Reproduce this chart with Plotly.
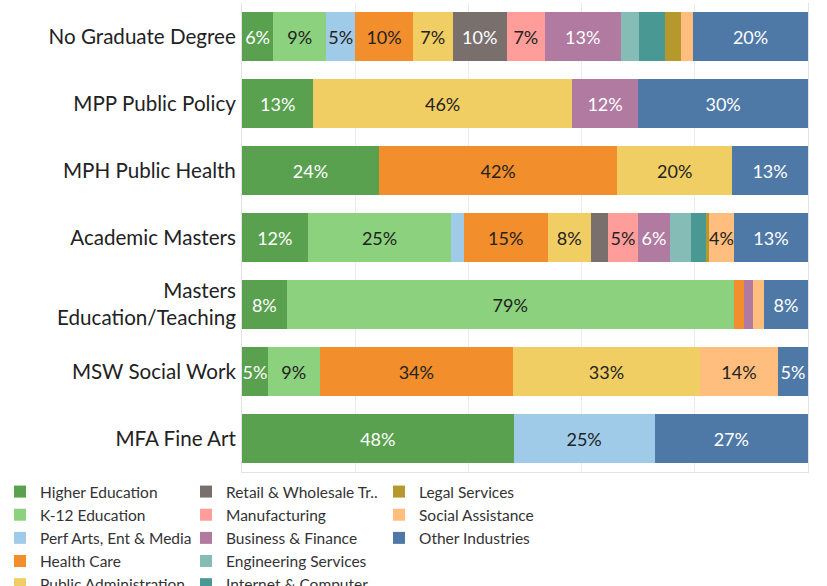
import plotly.graph_objects as go

categories = [
    "No Graduate Degree",
    "MPP Public Policy",
    "MPH Public Health",
    "Academic Masters",
    "Masters<br>Education/Teaching",
    "MSW Social Work",
    "MFA Fine Art",
]

industries = [
    "Higher Education",
    "K-12 Education",
    "Perf Arts, Ent & Media",
    "Health Care",
    "Public Administration",
    "Retail & Wholesale Tr..",
    "Manufacturing",
    "Business & Finance",
    "Engineering Services",
    "Internet & Computer ..",
    "Legal Services",
    "Social Assistance",
    "Other Industries",
]

# percent share per category (same order as categories)
higher_education = [5.5, 12.6, 24.2, 11.6, 7.9, 4.6, 48.0]
k12_education = [9.4, 0, 0, 25.4, 79.0, 9.1, 0]
perf_arts = [5.1, 0, 0, 2.2, 0, 0, 24.9]
health_care = [10.2, 0, 42.1, 14.8, 1.8, 34.2, 0]
public_admin = [7.0, 45.7, 20.3, 7.6, 0, 33.0, 0]
retail = [9.6, 0, 0, 3.0, 0, 0, 0]
manufacturing = [6.7, 0, 0, 5.4, 0, 0, 0]
business = [13.4, 11.7, 0, 5.6, 1.5, 0, 0]
engineering = [3.3, 0, 0, 3.7, 0, 0, 0]
internet = [4.6, 0, 0, 2.6, 0, 0, 0]
legal = [2.8, 0, 0, 0.6, 0, 0, 0]
social = [2.1, 0, 0, 4.4, 2.0, 13.8, 0]
other = [20.3, 30.0, 13.4, 13.1, 7.8, 5.3, 27.1]

series = [higher_education, k12_education, perf_arts, health_care, public_admin,
          retail, manufacturing, business, engineering, internet, legal, social, other]

colors = ["#59A14F", "#8CD17D", "#A0CBE8", "#F28E2B", "#F1CE63", "#79706E", "#FF9D9A",
          "#B07AA1", "#86BCB6", "#499894", "#B6992D", "#FFBE7D", "#4E79A7"]
text_colors = ["#ffffff", "#222222", "#222222", "#222222", "#222222", "#ffffff", "#222222",
               "#ffffff", "#222222", "#ffffff", "#ffffff", "#222222", "#ffffff"]
legend_ids = ["legend"] * 5 + ["legend2"] * 5 + ["legend3"] * 3

LABEL_MIN = 4.0
hidden_labels = {("Internet & Computer ..", "No Graduate Degree")}

FONT = "Lato, 'Open Sans', sans-serif"
LABEL_SIZE = 18

fig = go.Figure()
for name, vals, col, tcol, lg in zip(industries, series, colors, text_colors, legend_ids):
    texts = []
    for cat, v in zip(categories, vals):
        if v >= LABEL_MIN and (name, cat) not in hidden_labels:
            texts.append(f"{v:.0f}%")
        else:
            texts.append("")
    fig.add_trace(go.Bar(
        name=name,
        y=categories,
        x=vals,
        orientation="h",
        marker=dict(color=col, line=dict(width=0)),
        text=texts,
        textposition="inside",
        insidetextanchor="middle",
        textangle=0,
        textfont=dict(family=FONT, size=LABEL_SIZE, color=tcol),
        legend=lg,
        legendgroup=name,
        hoverinfo="skip",
    ))

legend_common = dict(
    xref="container", yref="container",
    xanchor="left", yanchor="top",
    bgcolor="rgba(0,0,0,0)",
    font=dict(family=FONT, size=15.5, color="#333333"),
    tracegroupgap=0,
    itemwidth=30,
    traceorder="normal",
    y=1 - 475 / 586,
)

fig.update_layout(
    width=827, height=586,
    barmode="stack",
    bargap=0.26,
    paper_bgcolor="white",
    plot_bgcolor="white",
    margin=dict(l=242, r=19, t=3, b=114, autoexpand=False),
    font=dict(family=FONT, color="#222222"),
    uniformtext=dict(minsize=LABEL_SIZE, mode="show"),
    legend=dict(legend_common, x=0),
    legend2=dict(legend_common, x=186 / 827),
    legend3=dict(legend_common, x=379 / 827),
    xaxis=dict(
        range=[0, 100],
        dtick=20,
        showgrid=True,
        gridcolor="#ececec",
        gridwidth=1,
        showticklabels=False,
        zeroline=False,
        showline=True,
        linecolor="#e3e3e3",
        linewidth=1,
        automargin=False,
        fixedrange=True,
    ),
    yaxis=dict(
        categoryorder="array",
        categoryarray=categories,
        autorange="reversed",
        showgrid=False,
        showline=True,
        mirror=True,
        linecolor="#e3e3e3",
        linewidth=1,
        ticks="",
        ticklabelstandoff=1,
        automargin=False,
        tickfont=dict(family=FONT, size=20.6, color="#222222"),
        fixedrange=True,
    ),
)

fig.write_html(
    "out.html",
    config={"displayModeBar": False},
    post_script="document.body.style.margin='0';document.body.style.padding='0';",
)
